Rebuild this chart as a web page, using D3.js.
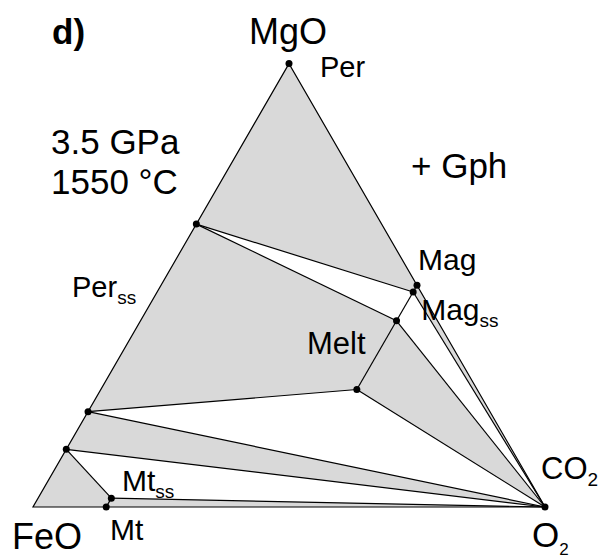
<!DOCTYPE html>
<html>
<head>
<meta charset="utf-8">
<script src="https://cdn.jsdelivr.net/npm/d3@7"></script>
<style>
  html, body { margin: 0; padding: 0; background: #fff; }
  svg { display: block; }
  text { font-family: "Liberation Sans", Arial, Helvetica, sans-serif; fill: #000; }
</style>
</head>
<body>
<svg id="chart" width="603" height="559"></svg>
<script>
// Phase compositions in the MgO–FeO–O2 ternary (mole fractions of MgO and O2; FeO is the remainder)
const pointNames = ["MgO", "FeO", "O2", "PerA", "PerB", "PerC", "Mag", "MagSS", "MeltA", "MeltB", "MtSS", "Mt"];
const mgoFrac   = [1.0,   0.0,   0.0,  0.638,  0.215,  0.13,  0.5,   0.485,   0.42,    0.265,   0.02,   0.0];
const o2Frac    = [0.0,   0.0,   1.0,  0.0,    0.0,    0.0,   0.5,   0.5,     0.5,     0.5,     0.143,  0.143];

// Phases marked with a dot
const dotPoints = ["MgO", "PerA", "Mag", "MagSS", "MeltA", "MeltB", "PerB", "PerC", "MtSS", "Mt", "O2"];

// Three-phase fields (shaded)
const shadedFields = [
  ["MgO", "PerA", "MagSS", "Mag"],
  ["PerA", "MeltA", "MeltB", "PerB"],
  ["MeltA", "O2", "MeltB"],
  ["PerB", "O2", "PerC"],
  ["FeO", "PerC", "MtSS", "Mt"],
  ["MtSS", "O2", "Mt"],
  ["MagSS", "Mag", "O2"]
];

// Tie lines bounding the two-phase fields
const tieLines = [
  ["PerA", "MagSS"], ["PerA", "MeltA"], ["MagSS", "MeltA"], ["MagSS", "O2"],
  ["MeltA", "MeltB"], ["MeltA", "O2"], ["MeltB", "O2"], ["PerB", "MeltB"],
  ["PerB", "O2"], ["PerC", "O2"], ["PerC", "MtSS"], ["MtSS", "Mt"], ["MtSS", "O2"],
  ["Mag", "MagSS"]
];

const svg = d3.select("#chart");

// Ternary projection: horizontal position from O2 + MgO/2, vertical from MgO
const xScale = d3.scaleLinear().domain([0, 1]).range([33, 545]);
const yScale = d3.scaleLinear().domain([0, 1]).range([507, 507 - 512 * Math.sqrt(3) / 2]);

const pts = {};
pointNames.forEach((n, i) => {
  const m = mgoFrac[i], o = o2Frac[i];
  pts[n] = [xScale(o + m / 2), yScale(m)];
});

const line = d3.line();

// Shaded fields
svg.append("g")
  .selectAll("path")
  .data(shadedFields)
  .join("path")
  .attr("d", f => line(f.map(n => pts[n])) + "Z")
  .attr("fill", "#d9d9d9")
  .attr("stroke", "none");

// Tie lines
svg.append("g")
  .selectAll("path")
  .data(tieLines)
  .join("path")
  .attr("d", l => line(l.map(n => pts[n])))
  .attr("fill", "none")
  .attr("stroke", "#000")
  .attr("stroke-width", 1.2);

// Triangle outline
svg.append("path")
  .attr("d", line(["MgO", "FeO", "O2"].map(n => pts[n])) + "Z")
  .attr("fill", "none")
  .attr("stroke", "#000")
  .attr("stroke-width", 1.2)
  .attr("stroke-linejoin", "miter");

// Phase dots
svg.append("g")
  .selectAll("circle")
  .data(dotPoints)
  .join("circle")
  .attr("cx", n => pts[n][0])
  .attr("cy", n => pts[n][1])
  .attr("r", 3.5)
  .attr("fill", "#000");

// Text labels: main text plus optional subscript
function label(x, y, size, main, sub, subSize, subDy, weight) {
  const t = svg.append("text")
    .attr("x", x).attr("y", y)
    .attr("font-size", size)
    .attr("font-weight", weight || "normal");
  t.append("tspan").text(main);
  if (sub) {
    t.append("tspan").attr("font-size", subSize).attr("dy", subDy).text(sub);
  }
  return t;
}

label(52, 44, 35, "d)", null, 0, 0, "bold");
label(249, 44, 36, "MgO");
label(pts.MgO[0] + 31, pts.MgO[1] + 13, 29, "Per");
label(51, 154, 35, "3.5 GPa");
label(51, 193.5, 35, "1550 °C");
label(411, 178, 35, "+ Gph");
label(pts.Mag[0] + 1, pts.Mag[1] - 15, 30, "Mag");
label(72, 297, 29, "Per", "ss", 19, 7);
label(pts.MagSS[0] + 8, pts.MagSS[1] + 28, 30, "Mag", "ss", 19, 7);
label(307, 353.5, 31, "Melt");
label(541, 479, 31, "CO", "2", 19, 7);
label(122, 490.5, 30, "Mt", "ss", 19, 7);
label(12, 548.5, 36, "FeO");
label(110, 539.5, 30, "Mt");
label(532, 546.5, 35, "O", "2", 17, 8);
</script>
</body>
</html>
